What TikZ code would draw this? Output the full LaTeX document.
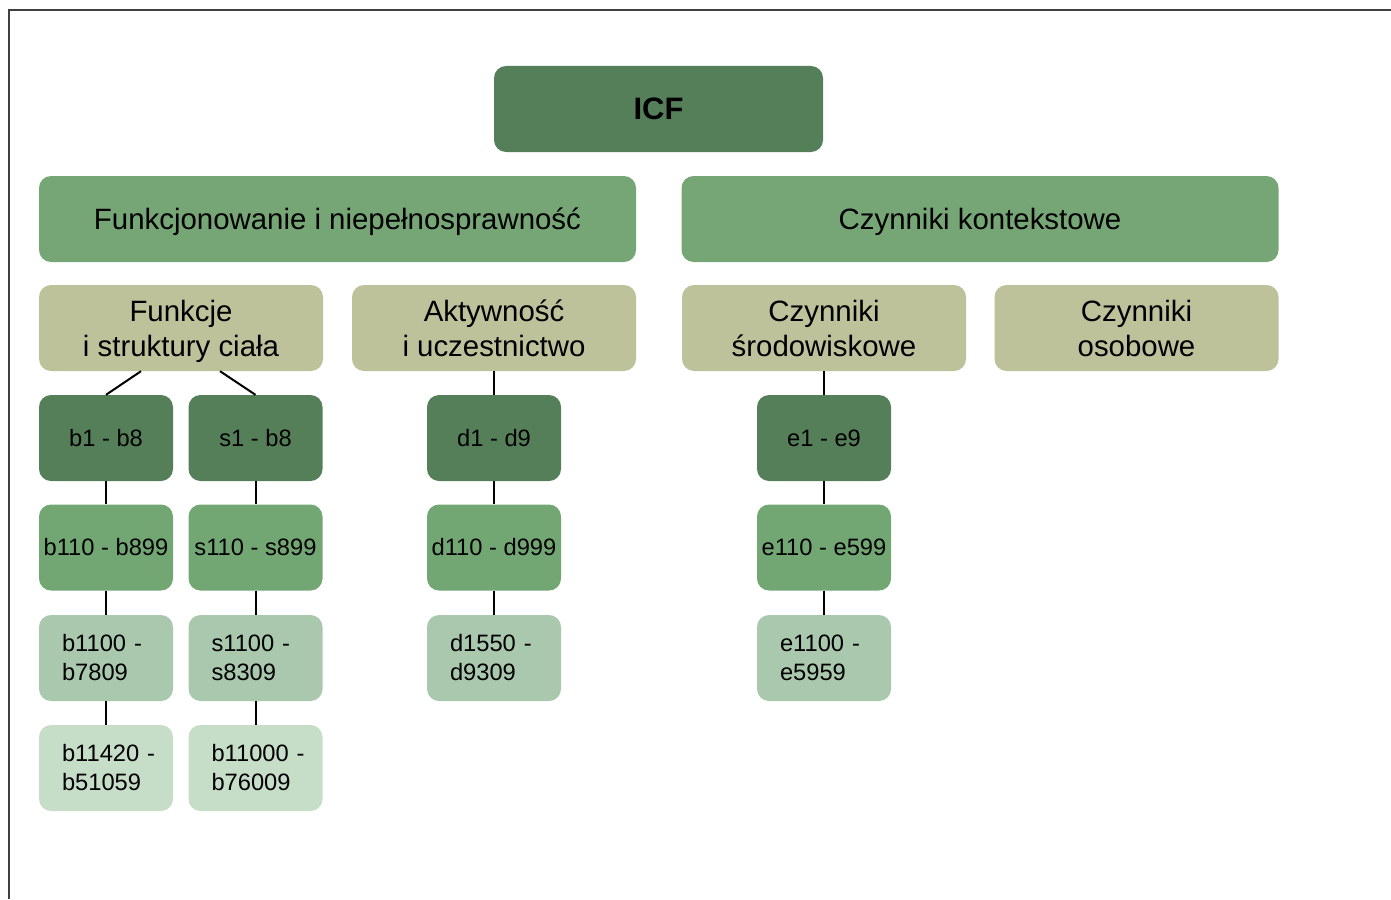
\documentclass[tikz,border=0pt]{standalone}
\usepackage{fontspec}
\setmainfont{Liberation Sans}
\definecolor{cdark}{HTML}{547F58}
\definecolor{ctop}{HTML}{76A675}
\definecolor{ctan}{HTML}{BEC29A}
\definecolor{cmid}{HTML}{72A673}
\definecolor{clight}{HTML}{A9C8AD}
\definecolor{cpale}{HTML}{C6DDC8}
\definecolor{frame}{HTML}{404040}
\tikzset{
  box/.style={draw=none, rounded corners=12pt, inner sep=0pt, align=center, text=black},
  icfbox/.style={box, fill=cdark, minimum width=329pt, minimum height=86pt, font=\fontsize{31}{36}\selectfont\bfseries},
  topbox/.style={box, fill=ctop, minimum width=597pt, minimum height=86pt, text depth=0pt, font=\fontsize{29.4}{35}\selectfont},
  tanbox/.style={box, fill=ctan, minimum width=284pt, minimum height=86pt, text depth=0pt, font=\fontsize{29.4}{35}\selectfont},
  codebox/.style={box, minimum width=134pt, minimum height=86pt, font=\fontsize{23.7}{29}\selectfont},
  darkbox/.style={codebox, fill=cdark},
  midbox/.style={codebox, fill=cmid},
  wrapbox/.style={codebox, text width=88pt, inner xsep=23pt, align=left},
  lightbox/.style={wrapbox, fill=clight},
  palebox/.style={wrapbox, fill=cpale},
  link/.style={draw=black, line width=2pt}
}
\begin{document}
\begin{tikzpicture}[x=1pt,y=-1pt]
\useasboundingbox (0,0) rectangle (1391,899);
\draw[frame, line width=2pt] (9,899) -- (9,10) -- (1391,10);

\node[icfbox] (icf) at (658.5,109) {ICF};
\node[topbox] (fun) at (337.5,219) {Funkcjonowanie i niepełnosprawność};
\node[topbox] (ctx) at (980,219) {Czynniki kontekstowe};

\node[tanbox] (fsc) at (181,328) {Funkcje\\i struktury ciała};
\node[tanbox] (aiu) at (494,328) {Aktywność\\i uczestnictwo};
\node[tanbox] (cs) at (824,328) {Czynniki\\środowiskowe};
\node[tanbox] (co) at (1136.5,328) {Czynniki\\osobowe};

\node[darkbox] (b1) at (106,438) {b1 - b8};
\node[darkbox] (s1) at (255.5,438) {s1 - b8};
\node[darkbox] (d1) at (494,438) {d1 - d9};
\node[darkbox] (e1) at (824,438) {e1 - e9};

\node[midbox] (b2) at (106,547.5) {b110 - b899};
\node[midbox] (s2) at (255.5,547.5) {s110 - s899};
\node[midbox] (d2) at (494,547.5) {d110 - d999};
\node[midbox] (e2) at (824,547.5) {e110 - e599};

\node[lightbox] (b3) at (106,658) {\mbox{b1100 -}\\b7809};
\node[lightbox] (s3) at (255.5,658) {\mbox{s1100 -}\\s8309};
\node[lightbox] (d3) at (494,658) {\mbox{d1550 -}\\d9309};
\node[lightbox] (e3) at (824,658) {\mbox{e1100 -}\\e5959};

\node[palebox] (b4) at (106,768) {\mbox{b11420 -}\\b51059};
\node[palebox] (s4) at (255.5,768) {\mbox{b11000 -}\\b76009};

\draw[link] ([xshift=-40pt]fsc.south) -- (b1.north);
\draw[link] ([xshift=39pt]fsc.south) -- (s1.north);
\draw[link] (b1) -- (b2);
\draw[link] (b2) -- (b3);
\draw[link] (b3) -- (b4);
\draw[link] (s1) -- (s2);
\draw[link] (s2) -- (s3);
\draw[link] (s3) -- (s4);
\draw[link] (aiu) -- (d1);
\draw[link] (d1) -- (d2);
\draw[link] (d2) -- (d3);
\draw[link] (cs) -- (e1);
\draw[link] (e1) -- (e2);
\draw[link] (e2) -- (e3);
\end{tikzpicture}
\end{document}
